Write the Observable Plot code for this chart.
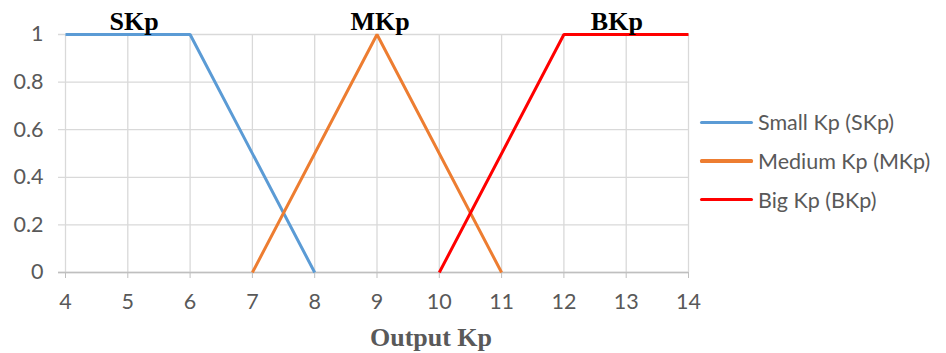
<!DOCTYPE html>
<html>
<head>
<meta charset="utf-8">
<script src="https://cdn.jsdelivr.net/npm/d3@7"></script>
<script src="https://cdn.jsdelivr.net/npm/@observablehq/plot@0.6"></script>
<style>
  html, body { margin: 0; padding: 0; background: #fff; }
  #chart { position: relative; width: 946px; height: 353px; }
  #legend { position: absolute; left: 700px; top: 103px; font-family: Lato, "Open Sans", sans-serif; font-size: 21.5px; color: #595959; }
  #legend .row { display: flex; align-items: center; height: 38.7px; }
  #legend .sw { width: 53px; height: 3.5px; margin-right: 5px; border-radius: 1.5px; }
</style>
</head>
<body>
<div id="chart"></div>
<script>
// Membership functions for the Kp output
const seriesNames = ["Small Kp (SKp)", "Medium Kp (MKp)", "Big Kp (BKp)"];
const seriesColors = ["#5b9bd5", "#ed7d31", "#ff0000"];
const smallX = [4, 6, 8];
const smallY = [1, 1, 0];
const mediumX = [7, 9, 11];
const mediumY = [0, 1, 0];
const bigX = [10, 12, 14];
const bigY = [0, 1, 1];
const setLabels = ["SKp", "MKp", "BKp"];
const setLabelX = [5.1, 9.05, 12.85];
const xTicks = [4, 5, 6, 7, 8, 9, 10, 11, 12, 13, 14];
const yTicks = [0, 0.2, 0.4, 0.6, 0.8, 1];

const series = [
  {name: seriesNames[0], xs: smallX, ys: smallY},
  {name: seriesNames[1], xs: mediumX, ys: mediumY},
  {name: seriesNames[2], xs: bigX, ys: bigY}
];
const rows = series.flatMap(s => s.xs.map((x, i) => ({series: s.name, x, y: s.ys[i]})));
const labels = setLabels.map((t, i) => ({t, x: setLabelX[i], y: 1}));

const tickFont = {fontFamily: "Lato, 'Open Sans', sans-serif", fontSize: 21.5};
const serif = "'Liberation Serif', 'Times New Roman', serif";

const plot = Plot.plot({
  width: 946,
  height: 353,
  marginLeft: 65,
  marginRight: 258,
  marginTop: 34,
  marginBottom: 81,
  style: {background: "#fff", overflow: "visible"},
  x: {domain: [4, 14]},
  y: {domain: [0, 1]},
  color: {domain: seriesNames, range: seriesColors},
  marks: [
    Plot.gridX(xTicks, {stroke: "#d9d9d9", strokeOpacity: 1, strokeWidth: 1.3}),
    Plot.gridY(yTicks, {stroke: "#d9d9d9", strokeOpacity: 1, strokeWidth: 1.3, x1: 4, x2: 14, insetLeft: -7}),
    Plot.ruleY([0], {stroke: "#bfbfbf", strokeWidth: 1.5, insetLeft: -7}),
    Plot.axisX(xTicks, {
      tickSize: 6, tickPadding: 15, stroke: "#bfbfbf", fill: "#595959",
      tickFormat: d => String(d), label: null, ...tickFont
    }),
    Plot.axisY(yTicks, {
      tickSize: 0, tickPadding: 22, fill: "#595959",
      tickFormat: d => String(d), label: null, ...tickFont
    }),
    Plot.line(rows, {x: "x", y: "y", z: "series", stroke: "series", strokeWidth: 3, strokeLinejoin: "miter", strokeLinecap: "butt"}),
    Plot.text(labels, {
      x: "x", y: "y", text: "t", dy: -13,
      fontFamily: serif, fontWeight: "bold", fontSize: 26, fill: "#000"
    }),
    Plot.text(["Output Kp"], {
      frameAnchor: "bottom", dy: 73, dx: 54,
      fontFamily: serif, fontWeight: "bold", fontSize: 26, fill: "#595959"
    })
  ]
});
document.getElementById("chart").appendChild(plot);

const legend = document.createElement("div");
legend.id = "legend";
seriesNames.forEach((n, i) => {
  const row = document.createElement("div");
  row.className = "row";
  const sw = document.createElement("div");
  sw.className = "sw";
  sw.style.background = seriesColors[i];
  const tx = document.createElement("span");
  tx.textContent = n;
  row.appendChild(sw);
  row.appendChild(tx);
  legend.appendChild(row);
});
document.getElementById("chart").appendChild(legend);
</script>
</body>
</html>
